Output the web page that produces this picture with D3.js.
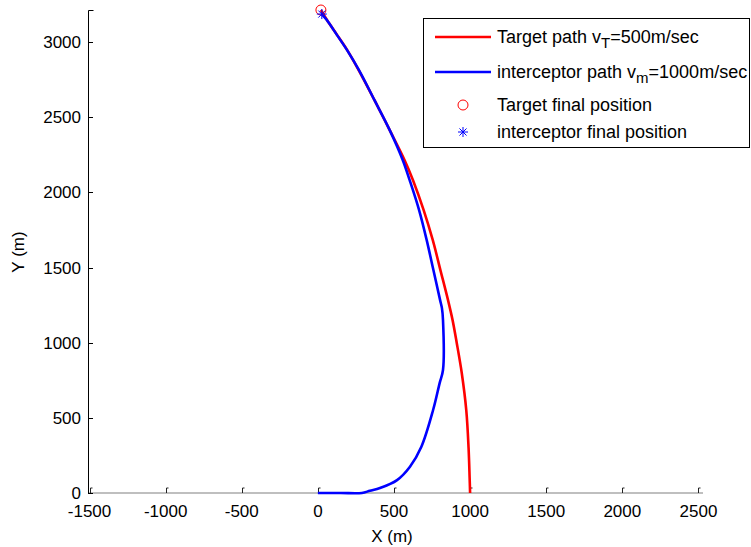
<!DOCTYPE html>
<html>
<head>
<meta charset="utf-8">
<script src="https://cdn.jsdelivr.net/npm/d3@7"></script>
<style>
  body { margin: 0; background: #fff; }
  svg { display: block; font-family: "Liberation Sans", Arial, sans-serif; }
</style>
</head>
<body>
<div id="chart"></div>
<script>
// target path (red)
const targetX = [1000, 997, 990, 975, 945, 912, 885, 855, 805, 755, 695, 625, 570, 472, 372, 268, 193, 127, 60, 20];
const targetY = [0, 100, 300, 550, 800, 1000, 1150, 1283, 1483, 1682, 1882, 2081, 2214, 2414, 2613, 2813, 2946, 3046, 3146, 3213];

// interceptor path (blue)
const interceptorX = [0, 150, 289, 342, 408, 520, 605, 680, 757, 800, 822, 822, 815, 803, 759, 715, 665, 603, 558, 472, 372, 270, 192, 126, 59, 26];
const interceptorY = [0, 0, 0, 15, 33, 86, 175, 308, 552, 731, 818, 1150, 1230, 1283, 1483, 1682, 1882, 2081, 2214, 2414, 2613, 2813, 2946, 3046, 3146, 3186];

const targetFinal = [20, 3213];
const interceptorFinal = [26, 3186];

const xTicks = [-1500, -1000, -500, 0, 500, 1000, 1500, 2000, 2500];
const yTicks = [0, 500, 1000, 1500, 2000, 2500, 3000];

const width = 751, height = 547;
const svg = d3.select("#chart").append("svg")
  .attr("width", width).attr("height", height);

const x = d3.scaleLinear().domain([-1510, 2530]).range([88, 703]);
const y = d3.scaleLinear().domain([0, 3213]).range([493, 10]);

const font = 17;

// x axis line (grey) with small upward ticks
svg.append("line")
  .attr("x1", 88).attr("x2", 703).attr("y1", y(0)).attr("y2", y(0))
  .attr("stroke", "#808080").attr("stroke-width", 1.2);

svg.selectAll("path.xtick").data(xTicks).join("path")
  .attr("class", "xtick")
  .attr("d", d => `M${Math.round(x(d)) + 0.5},${y(0)} V${y(0) - 5} h2`)
  .attr("fill", "none").attr("stroke", "#222").attr("stroke-width", 1);

svg.selectAll("text.xlab").data(xTicks).join("text")
  .attr("class", "xlab")
  .attr("x", d => x(d)).attr("y", 517)
  .attr("text-anchor", "middle").attr("font-size", font)
  .attr("fill", "#000")
  .text(d => d);

// y axis line (black) with ticks pointing inward
svg.append("path")
  .attr("d", `M93.5,10.5 H88.5 V${y(0)}`)
  .attr("fill", "none").attr("stroke", "#000").attr("stroke-width", 1);

svg.selectAll("line.ytick").data(yTicks).join("line")
  .attr("class", "ytick")
  .attr("x1", 88).attr("x2", 93)
  .attr("y1", d => Math.round(y(d)) + 0.5).attr("y2", d => Math.round(y(d)) + 0.5)
  .attr("stroke", "#000").attr("stroke-width", 1);

svg.selectAll("text.ylab").data(yTicks).join("text")
  .attr("class", "ylab")
  .attr("x", 81).attr("y", d => y(d) + 6)
  .attr("text-anchor", "end").attr("font-size", font)
  .attr("fill", "#000")
  .text(d => d);

// axis titles
svg.append("text")
  .attr("x", 392).attr("y", 542)
  .attr("text-anchor", "middle").attr("font-size", font)
  .text("X (m)");

svg.append("text")
  .attr("transform", `translate(24,252) rotate(-90)`)
  .attr("text-anchor", "middle").attr("font-size", font)
  .text("Y (m)");

// paths
const line = d3.line()
  .x(d => x(d[0])).y(d => y(d[1]))
  .curve(d3.curveCatmullRom.alpha(0.5));

svg.append("path")
  .datum(d3.zip(targetX, targetY))
  .attr("d", line)
  .attr("fill", "none").attr("stroke", "#ff0000").attr("stroke-width", 2.6)
  .attr("stroke-linejoin", "round");

svg.append("path")
  .datum(d3.zip(interceptorX, interceptorY))
  .attr("d", line)
  .attr("fill", "none").attr("stroke", "#0000ff").attr("stroke-width", 2.6)
  .attr("stroke-linejoin", "round");

// final position markers
function asterisk(g, cx, cy, r, color) {
  const s = r * 0.7071;
  g.append("path")
    .attr("d", `M${cx - r},${cy} H${cx + r} M${cx},${cy - r} V${cy + r} M${cx - s},${cy - s} L${cx + s},${cy + s} M${cx - s},${cy + s} L${cx + s},${cy - s}`)
    .attr("stroke", color).attr("stroke-width", 1).attr("fill", "none");
}

svg.append("circle")
  .attr("cx", x(targetFinal[0])).attr("cy", y(targetFinal[1])).attr("r", 5)
  .attr("fill", "none").attr("stroke", "#ff0000").attr("stroke-width", 1);

asterisk(svg, x(interceptorFinal[0]), y(interceptorFinal[1]), 5, "#0000ff");

// legend
const lfont = 18;
const lg = svg.append("g");
lg.append("rect")
  .attr("x", 423.5).attr("y", 18.5).attr("width", 326).attr("height", 129)
  .attr("fill", "#fff").attr("stroke", "#000").attr("stroke-width", 1);

const rows = [37, 72, 105, 132];
lg.append("line").attr("x1", 435).attr("x2", 491).attr("y1", rows[0]).attr("y2", rows[0])
  .attr("stroke", "#ff0000").attr("stroke-width", 2.6);
lg.append("line").attr("x1", 435).attr("x2", 491).attr("y1", rows[1]).attr("y2", rows[1])
  .attr("stroke", "#0000ff").attr("stroke-width", 2.6);
lg.append("circle").attr("cx", 463).attr("cy", rows[2]).attr("r", 5)
  .attr("fill", "none").attr("stroke", "#ff0000").attr("stroke-width", 1);
asterisk(lg, 463, rows[3], 5, "#0000ff");

const t1 = lg.append("text").attr("x", 497).attr("y", rows[0] + 6).attr("font-size", lfont);
t1.append("tspan").text("Target path v");
t1.append("tspan").attr("dy", 5).attr("font-size", 15).text("T");
t1.append("tspan").attr("dy", -5).text("=500m/sec");

const t2 = lg.append("text").attr("x", 497).attr("y", rows[1] + 6).attr("font-size", lfont);
t2.append("tspan").text("interceptor path v");
t2.append("tspan").attr("dy", 5).attr("font-size", 15).text("m");
t2.append("tspan").attr("dy", -5).text("=1000m/sec");

lg.append("text").attr("x", 497).attr("y", rows[2] + 6).attr("font-size", lfont)
  .text("Target final position");
lg.append("text").attr("x", 497).attr("y", rows[3] + 6).attr("font-size", lfont)
  .text("interceptor final position");
</script>
</body>
</html>
